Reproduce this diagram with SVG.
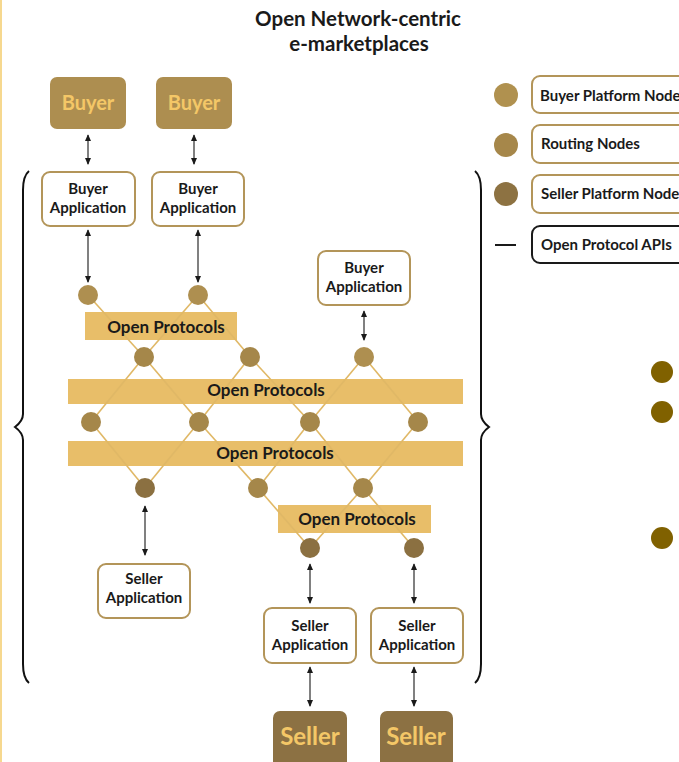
<svg xmlns="http://www.w3.org/2000/svg" width="679" height="762" viewBox="0 0 679 762">
  <defs>
    <style>
      .title { font-family: Lato, "Liberation Sans", sans-serif; font-weight: 700; font-size: 20.5px; fill: #1a1a1a; text-anchor: middle; }
      .party { fill: #ad8e50; }
      .party.seller { fill: #8c7143; }
      .party-text { font-family: Lato, "Liberation Sans", sans-serif; font-weight: 700; font-size: 20px; fill: #f4c767; text-anchor: middle; }
      .party-text.seller { font-size: 24px; }
      .app { fill: #ffffff; stroke: #b39559; stroke-width: 2; }
      .app-text { font-family: Lato, "Liberation Sans", sans-serif; font-weight: 700; font-size: 15px; fill: #1a1a1a; text-anchor: middle; }
      .bar { fill: #e8be69; }
      .bar-text { font-family: Lato, "Liberation Sans", sans-serif; font-weight: 700; font-size: 17px; fill: #1a1a1a; text-anchor: middle; }
      .link { stroke: #e0b866; stroke-width: 1.6; fill: none; }
      .flow { stroke: #4a4a4a; stroke-width: 1.4; fill: none; marker-start: url(#head); marker-end: url(#head); }
      .n-buyer { fill: #ae8f50; }
      .n-route { fill: #a5874a; }
      .n-seller { fill: #8b7041; }
      .brace { stroke: #111; stroke-width: 2; fill: none; }
      .legend-box { fill: #ffffff; stroke: #b39559; stroke-width: 2; }
      .legend-box.api { stroke: #1a1a1a; }
      .legend-text { font-family: Lato, "Liberation Sans", sans-serif; font-weight: 700; font-size: 15px; fill: #1a1a1a; }
      .dot { fill: #806100; }
    </style>
    <marker id="head" viewBox="0 0 8 8" refX="7" refY="4" markerWidth="7" markerHeight="7" markerUnits="userSpaceOnUse" orient="auto-start-reverse">
      <path d="M0,0.5 L8,4 L0,7.5 z" fill="#1a1a1a"/>
    </marker>
  </defs>

  <rect x="0" y="0" width="679" height="762" fill="#ffffff"/>
  <!-- page edge rule -->
  <rect x="0" y="0" width="2" height="762" fill="#f6d88f"/>

  <!-- heading -->
  <text class="title" x="358" y="26">Open Network-centric</text>
  <text class="title" x="359" y="51">e-marketplaces</text>

  <!-- side braces -->
  <path class="brace" d="M29,171 Q23,176 23,190 L23,414 Q23,421 15,427 Q23,433 23,440 L23,664 Q23,678 29,683"/>
  <path class="brace" d="M475,171 Q481,176 481,190 L481,414 Q481,421 489,427 Q481,433 481,440 L481,664 Q481,678 475,683"/>

  <!-- protocol bars -->
  <g id="protocol-bars">
    <rect class="bar" x="85" y="312" width="152" height="28"/>
    <rect class="bar" x="68" y="379" width="395" height="25"/>
    <rect class="bar" x="68" y="441" width="395" height="25"/>
    <rect class="bar" x="278" y="505" width="153" height="28"/>
  </g>

  <!-- network links between nodes -->
  <g id="links">
    <line class="link" x1="88" y1="295" x2="144" y2="357"/>
    <line class="link" x1="198" y1="295" x2="144" y2="357"/>
    <line class="link" x1="198" y1="295" x2="250" y2="357"/>
    <line class="link" x1="144" y1="357" x2="91" y2="422"/>
    <line class="link" x1="144" y1="357" x2="199" y2="422"/>
    <line class="link" x1="250" y1="357" x2="199" y2="422"/>
    <line class="link" x1="250" y1="357" x2="310" y2="422"/>
    <line class="link" x1="364" y1="357" x2="310" y2="422"/>
    <line class="link" x1="364" y1="357" x2="418" y2="422"/>
    <line class="link" x1="91" y1="422" x2="145" y2="488"/>
    <line class="link" x1="199" y1="422" x2="145" y2="488"/>
    <line class="link" x1="199" y1="422" x2="258" y2="488"/>
    <line class="link" x1="310" y1="422" x2="258" y2="488"/>
    <line class="link" x1="310" y1="422" x2="363" y2="488"/>
    <line class="link" x1="418" y1="422" x2="363" y2="488"/>
    <line class="link" x1="258" y1="488" x2="310" y2="548"/>
    <line class="link" x1="363" y1="488" x2="310" y2="548"/>
    <line class="link" x1="363" y1="488" x2="414" y2="548"/>
  </g>

  <!-- protocol bar labels -->
  <g id="protocol-labels">
    <text class="bar-text" x="166" y="333">Open Protocols</text>
    <text class="bar-text" x="266" y="396">Open Protocols</text>
    <text class="bar-text" x="275" y="459">Open Protocols</text>
    <text class="bar-text" x="357" y="525">Open Protocols</text>
  </g>

  <!-- application / party connectors -->
  <g id="connectors">
    <line class="flow" x1="88" y1="135" x2="88" y2="164"/>
    <line class="flow" x1="194" y1="135" x2="194" y2="164"/>
    <line class="flow" x1="88" y1="230" x2="88" y2="282"/>
    <line class="flow" x1="198" y1="230" x2="198" y2="282"/>
    <line class="flow" x1="364" y1="311" x2="364" y2="340"/>
    <line class="flow" x1="145" y1="506" x2="145" y2="555"/>
    <line class="flow" x1="310" y1="564" x2="310" y2="603"/>
    <line class="flow" x1="414" y1="564" x2="414" y2="603"/>
    <line class="flow" x1="310" y1="667" x2="310" y2="706"/>
    <line class="flow" x1="414" y1="667" x2="414" y2="706"/>
  </g>

  <!-- network nodes -->
  <g id="nodes">
    <circle class="n-buyer" cx="88" cy="295" r="10"/>
    <circle class="n-buyer" cx="198" cy="295" r="10"/>
    <circle class="n-route" cx="144" cy="357" r="10"/>
    <circle class="n-route" cx="250" cy="357" r="10"/>
    <circle class="n-buyer" cx="364" cy="357" r="10"/>
    <circle class="n-route" cx="91" cy="422" r="10"/>
    <circle class="n-route" cx="199" cy="422" r="10"/>
    <circle class="n-route" cx="310" cy="422" r="10"/>
    <circle class="n-route" cx="418" cy="422" r="10"/>
    <circle class="n-seller" cx="145" cy="488" r="10"/>
    <circle class="n-route" cx="258" cy="488" r="10"/>
    <circle class="n-route" cx="363" cy="488" r="10"/>
    <circle class="n-seller" cx="310" cy="548" r="10"/>
    <circle class="n-seller" cx="414" cy="548" r="10"/>
  </g>

  <!-- buyers -->
  <g id="buyer-1">
    <rect class="party" x="50" y="77" width="76" height="52" rx="7"/>
    <text class="party-text" x="88" y="110">Buyer</text>
  </g>
  <g id="buyer-2">
    <rect class="party" x="156" y="77" width="76" height="52" rx="7"/>
    <text class="party-text" x="194" y="110">Buyer</text>
  </g>

  <!-- buyer applications -->
  <g id="buyer-app-1">
    <rect class="app" x="42" y="172" width="93" height="54" rx="8"/>
    <text class="app-text" x="88" y="194">Buyer</text>
    <text class="app-text" x="88" y="213">Application</text>
  </g>
  <g id="buyer-app-2">
    <rect class="app" x="152" y="172" width="92" height="54" rx="8"/>
    <text class="app-text" x="198" y="194">Buyer</text>
    <text class="app-text" x="198" y="213">Application</text>
  </g>
  <g id="buyer-app-3">
    <rect class="app" x="318" y="251" width="92" height="54" rx="8"/>
    <text class="app-text" x="364" y="273">Buyer</text>
    <text class="app-text" x="364" y="292">Application</text>
  </g>

  <!-- seller applications -->
  <g id="seller-app-1">
    <rect class="app" x="98" y="564" width="92" height="54" rx="8"/>
    <text class="app-text" x="144" y="584">Seller</text>
    <text class="app-text" x="144" y="603">Application</text>
  </g>
  <g id="seller-app-2">
    <rect class="app" x="264" y="608" width="92" height="55" rx="8"/>
    <text class="app-text" x="310" y="631">Seller</text>
    <text class="app-text" x="310" y="650">Application</text>
  </g>
  <g id="seller-app-3">
    <rect class="app" x="371" y="608" width="92" height="55" rx="8"/>
    <text class="app-text" x="417" y="631">Seller</text>
    <text class="app-text" x="417" y="650">Application</text>
  </g>

  <!-- sellers -->
  <g id="seller-1">
    <rect class="party seller" x="273" y="711" width="74" height="60" rx="7"/>
    <text class="party-text seller" x="310" y="745">Seller</text>
  </g>
  <g id="seller-2">
    <rect class="party seller" x="380" y="711" width="73" height="60" rx="7"/>
    <text class="party-text seller" x="416" y="745">Seller</text>
  </g>

  <!-- legend -->
  <g id="legend-buyer-platform">
    <circle cx="506" cy="95" r="12" fill="#b0914f"/>
    <rect class="legend-box" x="532" y="76" width="170" height="37" rx="8"/>
    <text class="legend-text" x="540" y="101">Buyer Platform Node</text>
  </g>
  <g id="legend-routing">
    <circle cx="506" cy="145" r="12" fill="#a6874a"/>
    <rect class="legend-box" x="532" y="125" width="170" height="38" rx="8"/>
    <text class="legend-text" x="541" y="149">Routing Nodes</text>
  </g>
  <g id="legend-seller-platform">
    <circle cx="506" cy="194" r="12" fill="#8d7242"/>
    <rect class="legend-box" x="532" y="175" width="170" height="38" rx="8"/>
    <text class="legend-text" x="541" y="199">Seller Platform Node</text>
  </g>
  <g id="legend-api">
    <line x1="495" y1="245" x2="516" y2="245" stroke="#1a1a1a" stroke-width="2"/>
    <rect class="legend-box api" x="532" y="226" width="170" height="37" rx="8"/>
    <text class="legend-text" x="541" y="250">Open Protocol APIs</text>
  </g>

  <!-- side dots -->
  <g id="side-dots">
    <circle class="dot" cx="662" cy="372" r="11"/>
    <circle class="dot" cx="662" cy="412" r="11"/>
    <circle class="dot" cx="662" cy="538" r="11"/>
  </g>
</svg>
